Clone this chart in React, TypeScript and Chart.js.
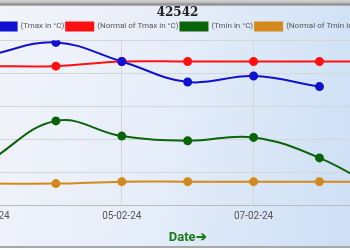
import React, { useEffect, useRef } from "react";
import { Chart, registerables } from "chart.js";

Chart.register(...registerables);

const dates = ["03-02-24", "04-02-24", "05-02-24", "06-02-24", "07-02-24", "08-02-24", "09-02-24"];
const tmax = [32.8, 34.7, 31.8, 28.7, 29.6, 28.0, null];
const normalTmax = [31.1, 31.1, 31.8, 31.8, 31.8, 31.8, 31.8];
const tmin = [16.8, 22.8, 20.5, 19.8, 20.3, 17.2, 11.8];
const normalTmin = [13.3, 13.3, 13.6, 13.6, 13.6, 13.6, 13.6];

export default function App() {
  const ref = useRef<HTMLCanvasElement | null>(null);

  useEffect(() => {
    if (!ref.current) return;
    const mk = (label: string, data: (number | null)[], color: string) => ({
      label,
      data,
      borderColor: color,
      backgroundColor: color,
      borderWidth: 2,
      pointRadius: 3.5,
      pointBackgroundColor: color,
      pointBorderColor: color,
      tension: 0.4,
      fill: false,
    });
    const chart = new Chart(ref.current, {
      type: "line",
      data: {
        labels: dates,
        datasets: [
          mk("(Tmax in °C)", tmax, "#1010d0"),
          mk("(Normal of Tmax in °C)", normalTmax, "#ff1010"),
          mk("(Tmin in °C)", tmin, "#0a640a"),
          mk("(Normal of Tmin in °C)", normalTmin, "#d4891c"),
        ],
      },
      options: {
        animation: false,
        responsive: false,
        maintainAspectRatio: false,
        layout: { padding: { left: 0, right: 0, top: 0, bottom: 0 } },
        plugins: {
          title: {
            display: true,
            text: "42542",
            color: "#222",
            font: { family: "'DejaVu Serif', serif", size: 12, weight: "bold" },
            padding: { top: 4, bottom: 0 },
          },
          legend: {
            display: true,
            labels: {
              boxWidth: 27,
              boxHeight: 8,
              padding: 2,
              color: "#555",
              font: { family: "Roboto, sans-serif", size: 8 },
            },
          },
          tooltip: { enabled: false },
        },
        scales: {
          x: {
            grid: { color: "#d6d6d6", drawTicks: false },
            border: { color: "#bbb" },
            ticks: {
              color: "#555",
              font: { family: "Roboto, sans-serif", size: 10 },
              maxTicksLimit: 4,
              maxRotation: 0,
              padding: 5,
            },
            title: {
              display: true,
              text: "Date➔",
              color: "#1a7a1a",
              font: { family: "Roboto, sans-serif", size: 13, weight: "bold" },
              padding: { top: 3, bottom: 0 },
            },
          },
          y: {
            min: 10,
            max: 35,
            grid: { color: "#d6d6d6", drawTicks: false },
            border: { color: "#bbb" },
            ticks: { stepSize: 5, color: "#555", font: { family: "Roboto, sans-serif", size: 10 } },
            afterFit: (scale: any) => {
              scale.width = 45;
            },
          },
        },
      },
    });
    return () => chart.destroy();
  }, []);

  return (
    <div
      style={{
        position: "fixed",
        left: 0,
        top: 0,
        width: 350,
        height: 250,
        overflow: "hidden",
        background: "#fff",
      }}
    >
      <div
        style={{
          position: "absolute",
          left: 0,
          top: 0,
          width: 350,
          height: 246,
          background: "linear-gradient(100deg, #f2f3fb 0%, #e6eef9 45%, #cddff5 100%)",
          borderBottom: "2px solid #a8a8a8",
        }}
      />
      <div
        style={{
          position: "absolute",
          left: 0,
          top: 0,
          width: 350,
          height: 6,
          background: "linear-gradient(180deg, #d4d4d4 0%, #c0c0c0 40%, #8c8c8c 70%, #b8b8b8 100%)",
        }}
      />
      <canvas
        ref={ref}
        width={465}
        height={244}
        style={{ position: "absolute", left: -55, top: 2, width: 465, height: 244 }}
      />
    </div>
  );
}
